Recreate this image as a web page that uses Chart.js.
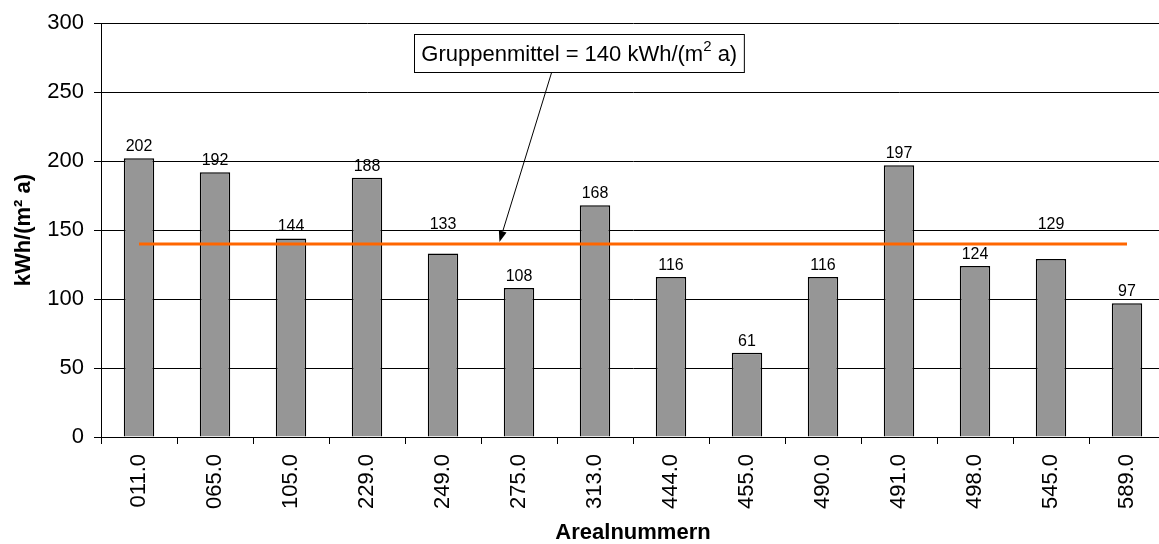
<!DOCTYPE html>
<html>
<head>
<meta charset="utf-8">
<script src="https://cdn.jsdelivr.net/npm/chart.js@4/dist/chart.umd.min.js"></script>
<style>
  html, body { margin: 0; padding: 0; background: #fff; overflow: hidden; }
  #wrap { width: 1166px; height: 544px; }
</style>
</head>
<body>
<div id="wrap"><canvas id="areaChart" width="1166" height="544"></canvas></div>
<script>
const areas = ['011.0', '065.0', '105.0', '229.0', '249.0', '275.0', '313.0',
    '444.0', '455.0', '490.0', '491.0', '498.0', '545.0', '589.0'];
const consumption = [202, 192, 144, 188, 133, 108, 168, 116, 61, 116, 197, 124, 129, 97];
const groupMean = 140;
const meanLabel = ['Gruppenmittel = 140 kWh/(m', '2', ' a)'];

const FONT = '"Liberation Sans", Arial, sans-serif';

// value labels above the bars, lifted above the mean line where they would cross it
const barLabels = {
    id: 'barLabels',
    afterDatasetsDraw(chart) {
        const ctx = chart.ctx;
        const meta = chart.getDatasetMeta(0);
        const lineY = chart.scales.y.getPixelForValue(groupMean);
        ctx.save();
        ctx.font = '16px ' + FONT;
        ctx.fillStyle = '#000';
        ctx.textAlign = 'center';
        ctx.textBaseline = 'alphabetic';
        meta.data.forEach((bar, i) => {
            let base = bar.y - 7;
            if (base > lineY - 3 && base - 12 < lineY + 3) base = lineY - 15;
            ctx.fillText(String(consumption[i]), bar.x, base);
        });
        ctx.restore();
    }
};

// callout box with arrow pointing at the mean line
const meanCallout = {
    id: 'meanCallout',
    afterDraw(chart) {
        const ctx = chart.ctx;
        const area = chart.chartArea;
        const y = chart.scales.y;
        const w = area.right - area.left;
        ctx.save();
        ctx.textBaseline = 'middle';
        ctx.font = '22px ' + FONT;
        const w1 = ctx.measureText(meanLabel[0]).width;
        const w3 = ctx.measureText(meanLabel[2]).width;
        ctx.font = '15px ' + FONT;
        const w2 = ctx.measureText(meanLabel[1]).width;
        const textW = w1 + w2 + w3;
        const cx = area.left + w * 0.4495;
        const cy = y.getPixelForValue(278.5);
        const boxW = textW + 14, boxH = 38;
        const bx = Math.round(cx - boxW / 2) + 0.5, by = Math.round(cy - boxH / 2) + 0.5;

        // arrow
        const sx = area.left + w * 0.4235, sy = by + boxH;
        const tx = area.left + w * 0.3745, ty = y.getPixelForValue(groupMean) - 2;
        const ang = Math.atan2(ty - sy, tx - sx);
        const hl = 11, hw = 4;
        const ex = tx - Math.cos(ang) * hl, ey = ty - Math.sin(ang) * hl;
        ctx.strokeStyle = '#000';
        ctx.lineWidth = 1;
        ctx.beginPath();
        ctx.moveTo(sx, sy);
        ctx.lineTo(ex, ey);
        ctx.stroke();
        ctx.fillStyle = '#000';
        ctx.beginPath();
        ctx.moveTo(tx, ty);
        ctx.lineTo(ex + Math.sin(ang) * hw, ey - Math.cos(ang) * hw);
        ctx.lineTo(ex - Math.sin(ang) * hw, ey + Math.cos(ang) * hw);
        ctx.closePath();
        ctx.fill();

        // box
        ctx.fillStyle = '#fff';
        ctx.fillRect(bx, by, boxW, boxH);
        ctx.strokeStyle = '#000';
        ctx.strokeRect(bx, by, boxW, boxH);

        // text with superscript
        ctx.fillStyle = '#000';
        ctx.textAlign = 'left';
        let x = cx - textW / 2;
        const ty2 = by + boxH / 2 + 1;
        ctx.font = '22px ' + FONT;
        ctx.fillText(meanLabel[0], x, ty2);
        x += w1;
        ctx.font = '15px ' + FONT;
        ctx.fillText(meanLabel[1], x, ty2 - 8);
        x += w2;
        ctx.font = '22px ' + FONT;
        ctx.fillText(meanLabel[2], x, ty2);
        ctx.restore();
    }
};

new Chart(document.getElementById('areaChart'), {
    data: {
        labels: areas,
        datasets: [{
            type: 'bar',
            data: consumption,
            backgroundColor: '#969696',
            borderColor: '#000',
            borderWidth: 1.5,
            barPercentage: 0.4,
            categoryPercentage: 1,
            order: 1,
        }, {
            type: 'line',
            data: areas.map(() => groupMean),
            borderColor: '#ff6600',
            borderWidth: 3,
            pointRadius: 0,
            fill: false,
            order: 0,
        }],
    },
    options: {
        responsive: false,
        animation: false,
        layout: { padding: { top: 21, right: 1, bottom: 0, left: 0 } },
        plugins: {
            legend: { display: false },
            tooltip: { enabled: false },
        },
        scales: {
            x: {
                afterFit(scale) { scale.height = 107; },
                grid: {
                    drawOnChartArea: false,
                    color: '#000',
                    tickLength: 7,
                    offset: true,
                },
                border: { color: '#000', width: 1 },
                ticks: {
                    color: '#000',
                    font: { family: FONT, size: 22 },
                    minRotation: 90,
                    maxRotation: 90,
                    padding: 10,
                    autoSkip: false,
                },
                title: {
                    display: true,
                    text: 'Arealnummern',
                    color: '#000',
                    font: { family: FONT, size: 22, weight: 'bold', lineHeight: 1 },
                    padding: { top: 0, bottom: 0 },
                },
            },
            y: {
                min: 0,
                max: 300,
                afterFit(scale) { scale.width = 101; },
                grid: {
                    color: '#000',
                    lineWidth: 1,
                    tickLength: 7,
                },
                border: { color: '#000', width: 1 },
                ticks: {
                    stepSize: 50,
                    color: '#000',
                    font: { family: FONT, size: 22 },
                    padding: 10,
                },
                title: {
                    display: true,
                    text: 'kWh/(m² a)',
                    color: '#000',
                    font: { family: FONT, size: 22, weight: 'bold', lineHeight: 1 },
                    padding: { top: 13, bottom: 0 },
                },
            },
        },
    },
    plugins: [barLabels, meanCallout],
});
</script>
</body>
</html>
